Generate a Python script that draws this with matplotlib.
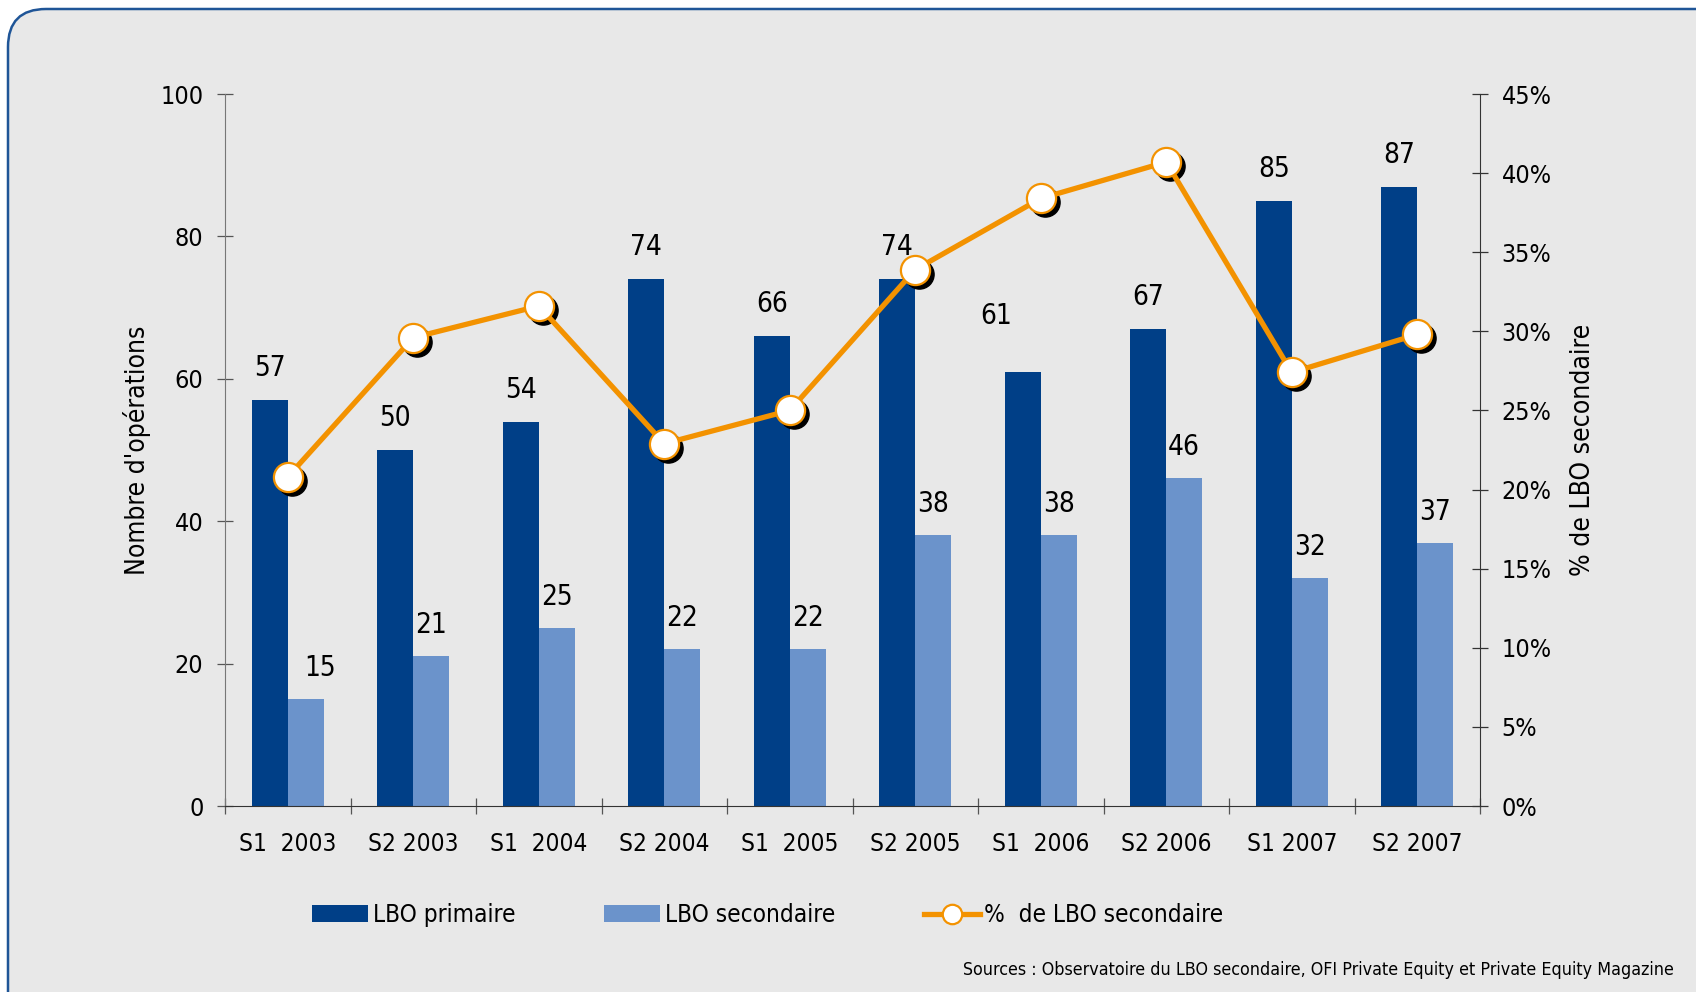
import numpy as np
import matplotlib.pyplot as plt
from matplotlib.patches import FancyBboxPatch
from matplotlib.ticker import FuncFormatter, MultipleLocator
import matplotlib.transforms as mtransforms

plt.rcParams['font.family'] = ['DejaVu Sans']
plt.rcParams['font.stretch'] = 'condensed'

# ── Data ──────────────────────────────────────────────────────────────────────
periods = ['S1  2003', 'S2 2003', 'S1  2004', 'S2 2004', 'S1  2005',
           'S2 2005', 'S1  2006', 'S2 2006', 'S1 2007', 'S2 2007']
lbo_primaire = [57, 50, 54, 74, 66, 74, 61, 67, 85, 87]
lbo_secondaire = [15, 21, 25, 22, 22, 38, 38, 46, 32, 37]
pct_secondaire = [20.8, 29.6, 31.6, 22.9, 25.0, 33.9, 38.4, 40.7, 27.4, 29.8]

DARK = '#003F87'
LIGHT = '#6B93CB'
ORANGE = '#F39200'
BG = '#E8E8E8'

W, H = 1696, 992
fig = plt.figure(figsize=(W / 100, H / 100), dpi=100)
fig.patch.set_facecolor('white')

# ── Rounded background panel (pixel coordinates) ─────────────────────────────
bg = fig.add_axes([0, 0, 1, 1], zorder=-10)
bg.set_xlim(0, W)
bg.set_ylim(H, 0)
bg.axis('off')
bg.add_patch(FancyBboxPatch((8, 9), 1740, 1040,
                            boxstyle='round,pad=0,rounding_size=38',
                            facecolor=BG, edgecolor='#1F5597', lw=1.8))

# ── Main axes ─────────────────────────────────────────────────────────────────
ax = fig.add_axes([225 / W, 1 - 806 / H, (1480 - 225) / W, (806 - 94) / H])
ax.patch.set_alpha(0)
x = np.arange(len(periods))
bw = 0.285
ax.bar(x - bw / 2, lbo_primaire, bw, color=DARK, label='LBO primaire', zorder=2)
ax.bar(x + bw / 2, lbo_secondaire, bw, color=LIGHT, label='LBO secondaire', zorder=2)

ax.set_xlim(-0.5, len(periods) - 0.5)
ax.set_ylim(0, 100)
ax.yaxis.set_major_locator(MultipleLocator(20))
ax.set_xticks(x)
ax.set_xticklabels(periods)
ax.set_xticks(np.arange(-0.5, len(periods)), minor=True)
ax.tick_params(axis='x', which='major', length=0, pad=19, labelsize=17.5)
ax.tick_params(axis='x', which='minor', length=11, direction='inout', width=0.9, color='#555555')
ax.tick_params(axis='y', length=11, direction='inout', width=0.9, color='#555555', pad=10, labelsize=18)
for s in ['top', 'right']:
    ax.spines[s].set_visible(False)
ax.spines['left'].set_color('#777777')
ax.spines['bottom'].set_color('#333333')
ax.set_ylabel("Nombre d'opérations", fontsize=19)
ax.yaxis.set_label_coords(-0.059, 0.5)

# value labels
lab_offsets_p = {6: (-27, 24)}
for i, v in enumerate(lbo_primaire):
    dx, dy = lab_offsets_p.get(i, (0, 0))
    ax.annotate(str(v), (x[i] - bw / 2, v), xytext=(dx, 24 + dy),
                textcoords='offset pixels', ha='center', va='baseline', fontsize=20)
lab_offsets_s = {0: (14, 0)}
for i, v in enumerate(lbo_secondaire):
    dx, dy = lab_offsets_s.get(i, (0, 0))
    ax.annotate(str(v), (x[i] + bw / 2, v), xytext=(dx, 23 + dy),
                textcoords='offset pixels', ha='center', va='baseline', fontsize=20)

# ── Secondary axis: % de LBO secondaire ──────────────────────────────────────
ax2 = ax.twinx()
ax2.set_ylim(0, 45)
ax2.yaxis.set_major_locator(MultipleLocator(5))
ax2.yaxis.set_major_formatter(FuncFormatter(lambda v, p: f'{v:.0f}%'))
ax2.tick_params(axis='y', length=11, direction='inout', width=0.9, color='#333333', pad=10, labelsize=18)
for s in ['top', 'left', 'bottom']:
    ax2.spines[s].set_visible(False)
ax2.spines['right'].set_color('#333333')
ax2.set_ylabel('% de LBO secondaire', fontsize=19)
ax2.yaxis.set_label_coords(1.072, 0.5)

shadow = mtransforms.offset_copy(ax2.transData, fig=fig, x=4, y=-4, units='dots')
ax2.plot(x, pct_secondaire, ls='none', marker='o', ms=21, mfc='black', mec='black',
         transform=shadow, zorder=3)
ax2.plot(x, pct_secondaire, color=ORANGE, lw=3.8, marker='o', ms=21, mfc='white',
         mec=ORANGE, mew=1.6, zorder=4, label='%  de LBO secondaire')
ax2.patch.set_alpha(0)

# ── Legend ────────────────────────────────────────────────────────────────────
h1, l1 = ax.get_legend_handles_labels()
h2, l2 = ax2.get_legend_handles_labels()
leg = fig.legend(h1 + h2, l1 + l2, loc='center left', bbox_to_anchor=(312 / W, 1 - 915 / H),
                 ncol=3, frameon=False, fontsize=17.5, handlelength=2.3, handleheight=0.65,
                 handletextpad=0.2, columnspacing=3.65, borderaxespad=0, borderpad=0)
for lh in leg.legend_handles[2:]:
    lh.set_markersize(14)

fig.text(1674 / W, 1 - 970 / H,
         'Sources : Observatoire du LBO secondaire, OFI Private Equity et Private Equity Magazine',
         ha='right', va='center', fontsize=12.8)

fig.savefig('out.png', dpi=100, facecolor=fig.get_facecolor())
